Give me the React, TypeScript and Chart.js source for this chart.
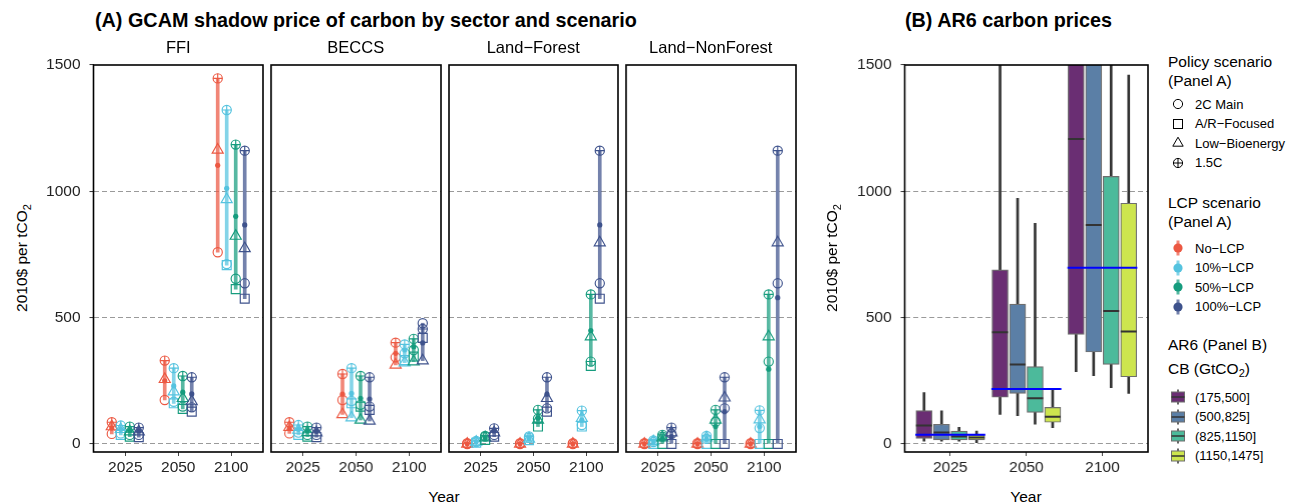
import React, { useEffect, useRef } from 'react';
import { Chart, registerables } from 'chart.js';

Chart.register(...registerables);

const FONT = '"Liberation Sans", Arial, Helvetica, sans-serif';

// ---------- categories ----------
const years = ['2025', '2050', '2100'];
const sectors = ['FFI', 'BECCS', 'Land−Forest', 'Land−NonForest'];
const lcpScenarios = ['No−LCP', '10%−LCP', '50%−LCP', '100%−LCP'];
const policyScenarios = ['2C Main', 'A/R−Focused', 'Low−Bioenergy', '1.5C'];
const cbGroups = ['(175,500]', '(500,825]', '(825,1150]', '(1150,1475]'];
const yTicks = [0, 500, 1000, 1500];

// ---------- Panel A values: rows = LCP scenario, columns = year ----------
const ffi2CMain = [[40, 174, 759], [42, 167, 712], [36, 148, 654], [36, 145, 636]];
const ffiARFocused = [[null, null, null], [36, 161, 708], [29, 139, 613], [27, 128, 575]];
const ffiLowBio = [[69, 256, 1164], [58, 207, 968], [49, 181, 823], [49, 168, 774]];
const ffi15C = [[86, 330, 1447], [73, 300, 1322], [69, 269, 1185], [65, 264, 1161]];
const ffiMean = [[63, 250, 1103], [58, 230, 1012], [53, 205, 901], [52, 198, 867]];

const beccs2CMain = [[42, 174, 343], [45, 170, 359], [36, 155, 372], [36, 148, 478]];
const beccsARFocused = [[null, null, null], [36, 161, 332], [29, 148, 346], [27, 135, 420]];
const beccsLowBio = [[66, 117, 313], [55, 104, 322], [46, 95, 326], [45, 91, 330]];
const beccs15C = [[86, 277, 401], [75, 300, 394], [69, 269, 416], [65, 264, 455]];
const beccsMean = [[63, 197, 359], [58, 200, 372], [51, 181, 385], [50, 178, 400]];

const forest2CMain = [[0, 0, 0], [8, 25, 75], [29, 100, 326], [36, 141, 636]];
const forestARFocused = [[null, null, null], [5, 15, 69], [16, 69, 309], [29, 128, 575]];
const forestLowBio = [[0, 0, 0], [8, 20, 102], [25, 95, 425], [45, 181, 797]];
const forest15C = [[3, 3, 3], [12, 30, 132], [32, 135, 592], [62, 264, 1161]];
const forestMean = [[1, 1, 1], [9, 22, 95], [25, 102, 449], [53, 197, 867]];

const nonforest2CMain = [[0, 0, 0], [8, 20, 63], [29, 88, 326], [40, 141, 636]];
const nonforestARFocused = [[null, null, null], [0, 0, 0], [0, 0, 0], [0, 0, 0]];
const nonforestLowBio = [[0, 0, 0], [10, 25, 96], [25, 95, 425], [45, 183, 797]];
const nonforest15C = [[3, 3, 3], [14, 32, 133], [36, 135, 592], [65, 264, 1161]];
const nonforestMean = [[1, 1, 1], [8, 20, 69], [22, 69, 296], [29, 128, 579]];

// ---------- Panel B values: per year [low whisker, q1, median, q3, high whisker] ----------
const cb175to500 = [[11, 22, 73, 132, 203], [117, 185, 442, 689, 1620], [286, 434, 1207, 1700, 2500]];
const cb500to825 = [[11, 16, 45, 78, 131], [112, 200, 315, 554, 972], [270, 364, 867, 1560, 2200]];
const cb825to1150 = [[11, 16, 30, 51, 66], [78, 125, 181, 306, 873], [223, 315, 526, 1059, 1800]];
const cb1150to1475 = [[5, 16, 26, 36, 51], [65, 86, 108, 145, 216], [200, 266, 445, 953, 1460]];
const ar6Mean = [37, 218, 698];

const sectorSeries = [
  { main: ffi2CMain, ar: ffiARFocused, low: ffiLowBio, c15: ffi15C, mean: ffiMean },
  { main: beccs2CMain, ar: beccsARFocused, low: beccsLowBio, c15: beccs15C, mean: beccsMean },
  { main: forest2CMain, ar: forestARFocused, low: forestLowBio, c15: forest15C, mean: forestMean },
  { main: nonforest2CMain, ar: nonforestARFocused, low: nonforestLowBio, c15: nonforest15C, mean: nonforestMean },
];
const cbSeries = [cb175to500, cb500to825, cb825to1150, cb1150to1475];

// ---------- styles ----------
const lcpColors = ['#EC5842', '#55C3DF', '#169C7E', '#3E528C'];
const cbColors = ['#6A2E73', '#5B7FA6', '#4CBA9B', '#CDE54E'];
const dodge = [-0.255, -0.085, 0.085, 0.255];
const boxDodge = [-0.346, -0.115, 0.115, 0.346];

function withAlpha(hex: string, a: number) {
  const n = parseInt(hex.slice(1), 16);
  return `rgba(${(n >> 16) & 255},${(n >> 8) & 255},${n & 255},${a})`;
}

const framePlugin = {
  id: 'frame',
  afterDraw(chart: any) {
    const { ctx, chartArea: a } = chart;
    ctx.save();
    ctx.strokeStyle = '#000';
    ctx.lineWidth = 1.6;
    ctx.strokeRect(a.left, a.top, a.right - a.left, a.bottom - a.top);
    ctx.restore();
  },
};

const PLOT_TOP = 65;
const PLOT_BOTTOM = 452;
const CANVAS_TOP = 35;
const X_AXIS_H = 30;
const CANVAS_H = PLOT_BOTTOM - CANVAS_TOP + X_AXIS_H;
const PAD_RIGHT = 10;

function yScale(showLabels: boolean, yw: number) {
  return {
    type: 'linear',
    min: -31.7,
    max: 1500,
    afterBuildTicks: (s: any) => {
      s.ticks = yTicks.map((v) => ({ value: v }));
    },
    afterFit: (s: any) => {
      s.width = yw;
    },
    grid: {
      color: (c: any) => (c.tick && c.tick.value === 1500 ? 'rgba(0,0,0,0)' : '#9a9a9a'),
      lineWidth: 1.1,
      drawTicks: showLabels,
      tickLength: 4,
      tickColor: '#333',
      tickWidth: 1,
      tickBorderDash: [],
      borderDash: [5, 3],
    },
    border: { display: false, dash: [5, 3] },
    ticks: {
      display: showLabels,
      callback: (v: any) => String(v),
      font: { family: FONT, size: 15.5 },
      color: '#222',
      padding: 9,
    },
  };
}

function xScale() {
  return {
    type: 'linear',
    min: 0.4,
    max: 3.6,
    offset: false,
    afterBuildTicks: (s: any) => {
      s.ticks = years.map((_, i) => ({ value: i + 1 }));
    },
    afterFit: (s: any) => {
      s.height = X_AXIS_H;
    },
    ticks: {
      callback: (v: any) => years[Math.round(Number(v)) - 1] ?? '',
      font: { family: FONT, size: 15.5 },
      color: '#222',
      padding: 2,
      maxRotation: 0,
      autoSkip: false,
    },
    grid: { drawOnChartArea: false, drawTicks: true, tickLength: 4, tickColor: '#444', offset: false },
    border: { display: false },
  };
}

function baseOptions(yw: number, showY: boolean) {
  return {
    responsive: false,
    animation: false,
    devicePixelRatio: 1,
    events: [],
    layout: { padding: { top: PLOT_TOP - CANVAS_TOP, right: PAD_RIGHT, left: 0, bottom: 0 } },
    plugins: { legend: { display: false }, tooltip: { enabled: false } },
    scales: { x: xScale(), y: yScale(showY, yw) },
  };
}

const policyShapes = [
  { style: 'circle', r: 4.6 },
  { style: 'rect', r: 6.3 },
  { style: 'triangle', r: 6.4 },
  { style: 'circle', r: 4.6, cross: true },
];

function facetConfig(si: number, yw: number, showY: boolean) {
  const d = sectorSeries[si];
  const datasets: any[] = [];
  lcpScenarios.forEach((lcp, l) => {
    const col = lcpColors[l];
    const policyRows = [d.main[l], d.ar[l], d.low[l], d.c15[l]];
    const xAt = (yi: number) => yi + 1 + dodge[l];
    datasets.push({
      type: 'bar',
      label: lcp + ' range',
      data: years.map((_, yi) => {
        const vals = policyRows.map((r) => r[yi]).filter((v) => v != null) as number[];
        return { x: xAt(yi), y: [Math.min(...vals), Math.max(...vals)] };
      }),
      backgroundColor: withAlpha(col, 0.72),
      borderWidth: 0,
      barThickness: 3,
      grouped: false,
      order: 100,
    });
    const toPts = (row: (number | null)[]) =>
      row.map((v, yi) => (v == null ? null : { x: xAt(yi), y: v })).filter(Boolean);
    datasets.push({
      type: 'scatter',
      label: lcp + ' mean',
      data: toPts(d.mean[l]),
      pointStyle: 'circle',
      pointRadius: 2.6,
      pointBackgroundColor: col,
      backgroundColor: col,
      pointBorderWidth: 0,
      borderWidth: 0,
      order: 50 - l * 10 + 5,
    });
    policyShapes.forEach((ps, p) => {
      const common = {
        type: 'scatter',
        data: toPts(policyRows[p]),
        pointRadius: ps.r,
        pointBorderColor: col,
        borderColor: col,
        pointBackgroundColor: 'rgba(0,0,0,0)',
        backgroundColor: 'rgba(0,0,0,0)',
        pointBorderWidth: 1.15,
        borderWidth: 1.15,
        order: 50 - l * 10,
      };
      datasets.push({ ...common, label: lcp + ' ' + policyScenarios[p], pointStyle: ps.style });
      if (ps.cross) {
        datasets.push({ ...common, label: lcp + ' ' + policyScenarios[p] + ' cross', pointStyle: 'cross' });
      }
    });
  });
  return {
    type: 'bar',
    data: { datasets },
    options: baseOptions(yw, showY),
    plugins: [framePlugin],
  };
}

const boxPlugin = {
  id: 'boxExtras',
  afterDatasetsDraw(chart: any) {
    const { ctx, chartArea: a, scales } = chart;
    ctx.save();
    ctx.beginPath();
    ctx.rect(a.left, a.top, a.right - a.left, a.bottom - a.top);
    ctx.clip();
    cbSeries.forEach((series, g) => {
      const meta = chart.getDatasetMeta(4 + g);
      meta.data.forEach((el: any, yi: number) => {
        const y = scales.y.getPixelForValue(series[yi][2]);
        ctx.strokeStyle = '#333';
        ctx.lineWidth = 2;
        ctx.beginPath();
        ctx.moveTo(el.x - el.width / 2, y);
        ctx.lineTo(el.x + el.width / 2, y);
        ctx.stroke();
      });
    });
    ar6Mean.forEach((m, yi) => {
      const y = scales.y.getPixelForValue(m);
      ctx.strokeStyle = '#0000FF';
      ctx.lineWidth = 2;
      ctx.beginPath();
      ctx.moveTo(scales.x.getPixelForValue(yi + 1 - 0.46), y);
      ctx.lineTo(scales.x.getPixelForValue(yi + 1 + 0.46), y);
      ctx.stroke();
    });
    ctx.restore();
  },
};

function ar6Config(yw: number) {
  const datasets: any[] = [];
  cbSeries.forEach((series, g) => {
    datasets.push({
      type: 'bar',
      label: cbGroups[g] + ' whisker',
      data: series.map((s, yi) => ({ x: yi + 1 + boxDodge[g], y: [s[0], s[4]] })),
      backgroundColor: '#333',
      borderWidth: 0,
      barThickness: 2,
      grouped: false,
      order: 100,
    });
  });
  cbSeries.forEach((series, g) => {
    datasets.push({
      type: 'bar',
      label: cbGroups[g],
      data: series.map((s, yi) => ({ x: yi + 1 + boxDodge[g], y: [s[1], s[3]] })),
      backgroundColor: cbColors[g],
      borderColor: '#6e6e6e',
      borderWidth: 1.2,
      borderSkipped: false,
      barThickness: 16,
      grouped: false,
      order: 10,
    });
  });
  return {
    type: 'bar',
    data: { datasets },
    options: baseOptions(yw, true),
    plugins: [boxPlugin, framePlugin],
  };
}

function ChartCanvas({ left, width, make }: { left: number; width: number; make: () => any }) {
  const ref = useRef<HTMLCanvasElement>(null);
  useEffect(() => {
    const chart = new Chart(ref.current as HTMLCanvasElement, make());
    return () => chart.destroy();
  }, []);
  return (
    <canvas
      ref={ref}
      width={width}
      height={CANVAS_H}
      style={{ position: 'absolute', left, top: CANVAS_TOP, width, height: CANVAS_H }}
    />
  );
}

function Txt({ x, y, size, bold, align, children, color }: any) {
  const lh = Math.round(size * 1.3);
  const style: any = {
    position: 'absolute',
    top: y - lh / 2,
    height: lh,
    lineHeight: lh + 'px',
    fontSize: size,
    fontFamily: FONT,
    fontWeight: bold ? 'bold' : 'normal',
    color: color || '#000',
    whiteSpace: 'nowrap',
  };
  if (align === 'center') {
    style.left = x - 200;
    style.width = 400;
    style.textAlign = 'center';
  } else {
    style.left = x;
  }
  return <div style={style}>{children}</div>;
}

function YTitle({ x, y }: { x: number; y: number }) {
  return (
    <div
      style={{
        position: 'absolute',
        left: x - 100,
        top: y - 11,
        width: 200,
        height: 22,
        lineHeight: '22px',
        textAlign: 'center',
        fontFamily: FONT,
        fontSize: 15.5,
        color: '#000',
        transform: 'rotate(-90deg)',
        whiteSpace: 'nowrap',
      }}
    >
      2010$ per tCO<sub style={{ fontSize: 11, verticalAlign: -4 }}>2</sub>
    </div>
  );
}

const LEG_SYM_X = 1178;
const LEG_TXT_X = 1195;
const policyLegY = [104, 123.5, 143, 162.5];
const lcpLegY = [248, 267.5, 287, 306.5];
const cbLegY = [397, 416.5, 436, 455.5];

function PolicySymbol({ i }: { i: number }) {
  const s = 'black';
  const w = 1;
  if (i === 0) return <circle cx={9} cy={9} r={4.6} fill="none" stroke={s} strokeWidth={w} />;
  if (i === 1) return <rect x={4.5} y={4.5} width={9} height={9} fill="none" stroke={s} strokeWidth={w} />;
  if (i === 2) return <polygon points="9,3.2 14.2,12.2 3.8,12.2" fill="none" stroke={s} strokeWidth={w} />;
  return (
    <g fill="none" stroke={s} strokeWidth={w}>
      <circle cx={9} cy={9} r={4.6} />
      <line x1={9} y1={4.4} x2={9} y2={13.6} />
      <line x1={4.4} y1={9} x2={13.6} y2={9} />
    </g>
  );
}

function Legend() {
  const svgAt = (y: number, child: any, key: string) => (
    <svg
      key={key}
      width={18}
      height={18}
      style={{ position: 'absolute', left: LEG_SYM_X - 9, top: y - 9 }}
    >
      {child}
    </svg>
  );
  return (
    <>
      <Txt x={1168} y={62} size={15.5}>Policy scenario</Txt>
      <Txt x={1168} y={81} size={15.5}>(Panel A)</Txt>
      {policyScenarios.map((p, i) => (
        <React.Fragment key={p}>
          {svgAt(policyLegY[i], <PolicySymbol i={i} />, 'ps' + i)}
          <Txt x={LEG_TXT_X} y={policyLegY[i]} size={13}>{p}</Txt>
        </React.Fragment>
      ))}
      <Txt x={1168} y={203} size={15.5}>LCP scenario</Txt>
      <Txt x={1168} y={222} size={15.5}>(Panel A)</Txt>
      {lcpScenarios.map((p, i) => (
        <React.Fragment key={p}>
          {svgAt(
            lcpLegY[i],
            <g>
              <line x1={9} y1={1.5} x2={9} y2={16.5} stroke={withAlpha(lcpColors[i], 0.72)} strokeWidth={3} />
              <circle cx={9} cy={9} r={4.6} fill={lcpColors[i]} />
            </g>,
            'ls' + i
          )}
          <Txt x={LEG_TXT_X} y={lcpLegY[i]} size={13}>{p}</Txt>
        </React.Fragment>
      ))}
      <Txt x={1168} y={345} size={15.5}>AR6 (Panel B)</Txt>
      <Txt x={1168} y={369} size={15.5}>
        CB (GtCO<sub style={{ fontSize: 11, verticalAlign: -3 }}>2</sub>)
      </Txt>
      {cbGroups.map((p, i) => (
        <React.Fragment key={p}>
          {svgAt(
            cbLegY[i],
            <g>
              <line x1={9} y1={1.5} x2={9} y2={16.5} stroke="#333" strokeWidth={1.5} />
              <rect x={2.5} y={4} width={13} height={10} fill={cbColors[i]} stroke="#6e6e6e" strokeWidth={1} />
              <line x1={2.5} y1={9} x2={15.5} y2={9} stroke="#333" strokeWidth={1.5} />
            </g>,
            'cs' + i
          )}
          <Txt x={LEG_TXT_X} y={cbLegY[i]} size={13}>{p}</Txt>
        </React.Fragment>
      ))}
    </>
  );
}

const FACET_LEFT0 = 93.5;
const FACET_STEP = 177.5;
const FACET_W = 169.5;
const AR6_LEFT = 904.5;
const AR6_W = 243;

export default function App() {
  const facets = sectors.map((name, i) => {
    const plotLeft = FACET_LEFT0 + i * FACET_STEP;
    const yw = i === 0 ? 53.5 : 12;
    const cLeft = plotLeft - yw;
    const cWidth = yw + FACET_W + PAD_RIGHT;
    return (
      <React.Fragment key={name}>
        <ChartCanvas left={cLeft} width={cWidth} make={() => facetConfig(i, yw, i === 0)} />
        <Txt x={plotLeft + FACET_W / 2} y={47} size={16.5} align="center">
          {name}
        </Txt>
      </React.Fragment>
    );
  });
  const ar6Yw = 64.5;
  const ar6CW = ar6Yw + AR6_W + PAD_RIGHT;
  return (
    <div
      style={{
        position: 'absolute',
        left: 0,
        top: 0,
        width: 1293,
        height: 504,
        overflow: 'hidden',
        background: '#fff',
      }}
    >
      <Txt x={95} y={20} size={19.8} bold>
        (A) GCAM shadow price of carbon by sector and scenario
      </Txt>
      <Txt x={905} y={20} size={19.8} bold>
        (B) AR6 carbon prices
      </Txt>
      {facets}
      <ChartCanvas left={AR6_LEFT - ar6Yw} width={ar6CW} make={() => ar6Config(ar6Yw)} />
      <YTitle x={22} y={258} />
      <YTitle x={832} y={258} />
      <Txt x={444} y={497} size={15.5} align="center">Year</Txt>
      <Txt x={1026} y={497} size={15.5} align="center">Year</Txt>
      <Legend />
    </div>
  );
}
